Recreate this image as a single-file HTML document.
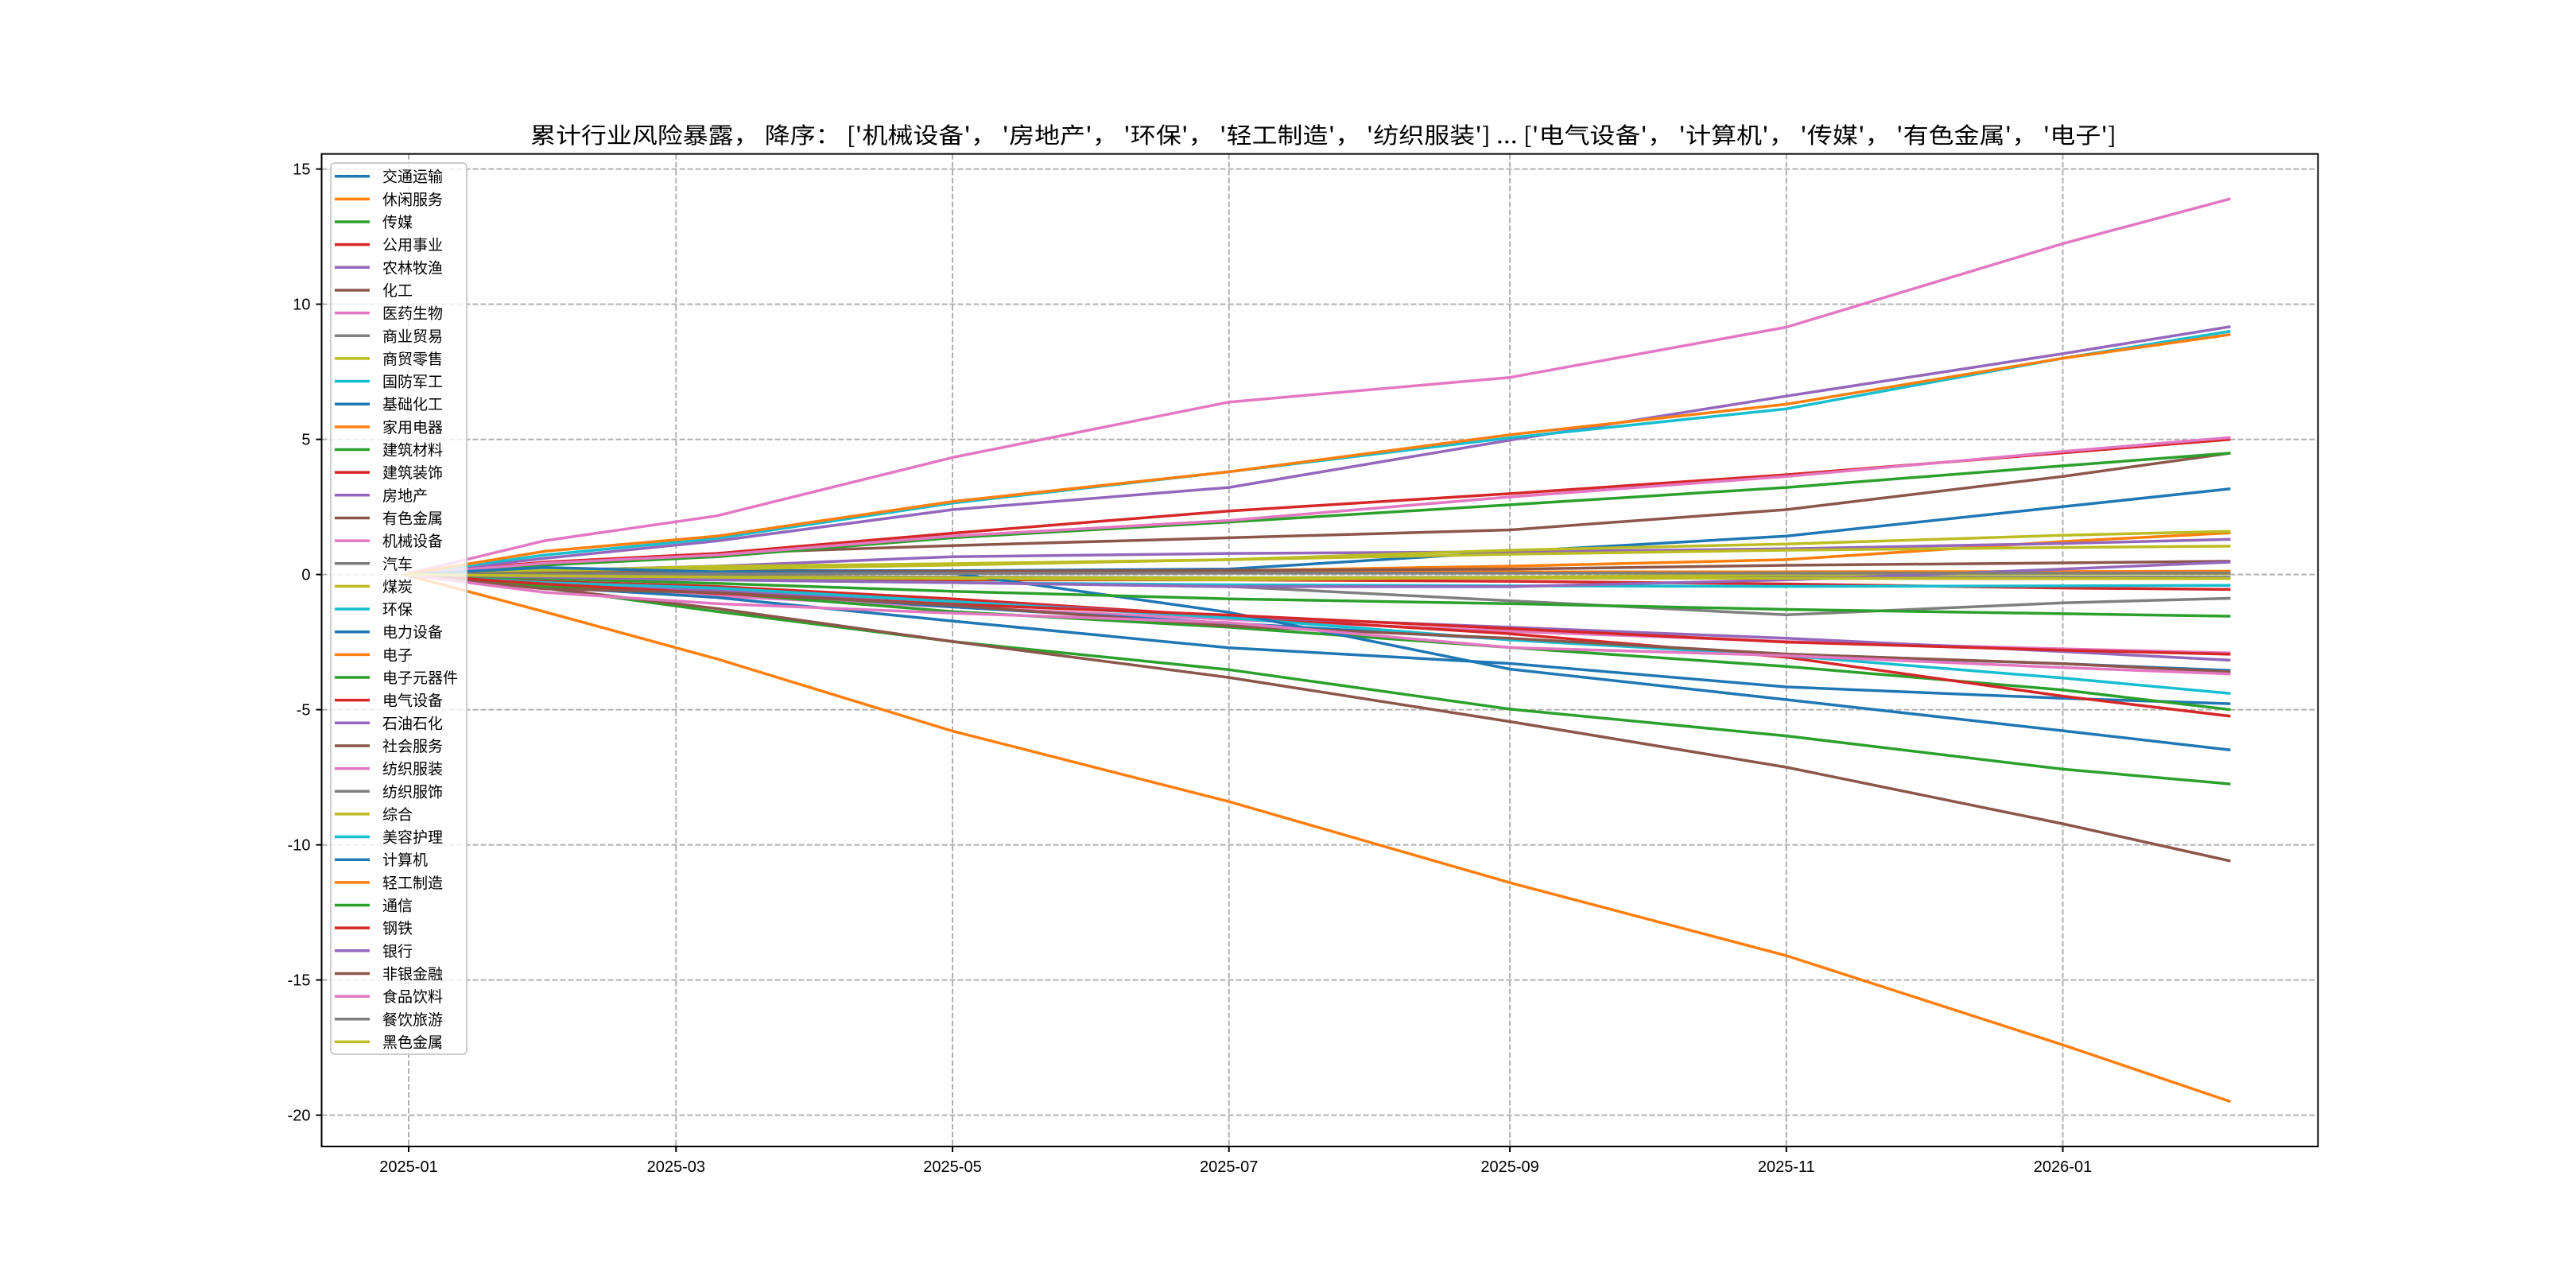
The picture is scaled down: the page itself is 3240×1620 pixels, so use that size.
<!DOCTYPE html>
<html><head><meta charset="utf-8">
<style>
html,body{margin:0;padding:0;background:#fff;}
svg{display:block;font-family:"Liberation Sans","Noto Sans CJK SC","WenQuanYi Zen Hei",sans-serif;}
</style></head>
<body>
<svg id="chart" width="3240" height="1620" viewBox="0 0 3240 1620" xmlns="http://www.w3.org/2000/svg">
<rect x="0" y="0" width="3240" height="1620" fill="#fff"/>
<text x="667" y="180" font-size="28" textLength="1995" lengthAdjust="spacingAndGlyphs" fill="#000" style="font-family:'Noto Sans CJK SC','WenQuanYi Zen Hei',sans-serif">累计行业风险暴露， 降序： ['机械设备'， '房地产'， '环保'， '轻工制造'， '纺织服装'] ... ['电气设备'， '计算机'， '传媒'， '有色金属'， '电子']</text>
<g id="grid"></g>
<g id="lines"></g>
<rect x="404.5" y="193.6" width="2511" height="1248.4" fill="none" stroke="#000" stroke-width="2"/>
<g id="ticks"></g>
<g id="legend"></g>
</svg>
<script>
const days = [-1, 30, 68, 120, 181, 243, 304, 365, 402];
const names = ["交通运输","休闲服务","传媒","公用事业","农林牧渔","化工","医药生物","商业贸易","商贸零售","国防军工","基础化工","家用电器","建筑材料","建筑装饰","房地产","有色金属","机械设备","汽车","煤炭","环保","电力设备","电子","电子元器件","电气设备","石油石化","社会服务","纺织服装","纺织服饰","综合","美容护理","计算机","轻工制造","通信","钢铁","银行","非银金融","食品饮料","餐饮旅游","黑色金属"];
const s0 = [0,0.1,0.14,0.14,0.2,0.84,1.42,2.51,3.17];
const s1 = [0,0.03,0.06,0.1,0.14,0.31,0.55,1.22,1.54];
const s2 = [0,-0.5,-1.37,-2.48,-3.52,-4.98,-5.97,-7.2,-7.75];
const s3 = [0,-0.1,-0.15,-0.2,-0.2,-0.25,-0.35,-0.5,-0.55];
const s4 = [0,0.15,0.31,0.66,0.78,0.84,0.95,1.15,1.3];
const s5 = [0,0.4,0.78,1.07,1.36,1.65,2.4,3.63,4.49];
const s6 = [0,-0.35,-0.8,-1.2,-1.66,-2.1,-2.48,-2.75,-2.9];
const s7 = [0,-0.08,-0.15,-0.3,-0.44,-0.97,-1.49,-1.05,-0.88];
const s8 = [0,0.1,0.2,0.35,0.55,0.9,1.13,1.45,1.6];
const s9 = [0,-0.1,-0.2,-0.3,-0.38,-0.42,-0.44,-0.42,-0.4];
const s10 = [0,-0.46,-0.85,-1.72,-2.71,-3.29,-4.16,-4.58,-4.78];
const s11 = [0,0,0.02,0.05,0.08,0.1,0.1,0.11,0.12];
const s12 = [0,0.35,0.66,1.36,1.94,2.58,3.22,4.02,4.49];
const s13 = [0,0.46,0.78,1.53,2.35,2.99,3.69,4.5,5.0];
const s14 = [0,0.6,1.24,2.4,3.22,4.97,6.6,8.17,9.17];
const s15 = [0,-0.5,-1.26,-2.48,-3.81,-5.44,-7.13,-9.22,-10.6];
const s16 = [0,1.25,2.17,4.33,6.38,7.29,9.15,12.24,13.9];
const s17 = [0,-0.05,-0.08,-0.1,-0.12,-0.1,-0.1,-0.1,-0.1];
const s18 = [0,0.15,0.3,0.4,0.55,0.75,0.9,1.0,1.05];
const s19 = [0,0.72,1.34,2.64,3.8,5.06,6.13,8.0,9.0];
const s20 = [0,-0.3,-0.6,-1.2,-1.8,-2.4,-2.95,-3.3,-3.55];
const s21 = [0,-1.38,-3.12,-5.79,-8.4,-11.4,-14.1,-17.4,-19.5];
const s22 = [0,-0.45,-0.67,-1.37,-1.95,-2.7,-3.4,-4.27,-5.0];
const s23 = [0,-0.25,-0.44,-0.9,-1.55,-2.19,-3.06,-4.5,-5.24];
const s24 = [0,-0.3,-0.6,-1.0,-1.55,-1.95,-2.36,-2.85,-3.17];
const s25 = [0,0.05,0.1,0.12,0.15,0.2,0.34,0.43,0.49];
const s26 = [0,0.42,0.72,1.42,2.0,2.87,3.63,4.55,5.07];
const s27 = [0,-0.04,-0.06,-0.1,-0.12,-0.13,-0.14,-0.15,-0.15];
const s28 = [0,-0.05,-0.1,-0.15,-0.2,-0.1,0.0,0.02,0.03];
const s29 = [0,-0.3,-0.5,-1.0,-1.6,-2.42,-3.0,-3.83,-4.4];
const s30 = [0,0.26,0.1,0.05,-1.4,-3.5,-4.63,-5.78,-6.49];
const s31 = [0,0.86,1.42,2.7,3.8,5.17,6.3,8.0,8.88];
const s32 = [0,-0.15,-0.33,-0.62,-0.9,-1.08,-1.29,-1.45,-1.54];
const s33 = [0,-0.35,-0.7,-1.1,-1.5,-2.0,-2.5,-2.8,-2.95];
const s34 = [0,-0.1,-0.2,-0.3,-0.45,-0.45,-0.2,0.2,0.46];
const s35 = [0,-0.53,-0.67,-1.14,-1.9,-2.36,-2.94,-3.3,-3.6];
const s36 = [0,-0.66,-1.08,-1.43,-1.78,-2.7,-3.0,-3.44,-3.68];
const s37 = [0,0.02,0.03,0.04,0.05,0.05,0.05,0.05,0.05];
const s38 = [0,-0.05,-0.1,-0.12,-0.12,-0.13,-0.14,-0.15,-0.15];
const series = [s0,s1,s2,s3,s4,s5,s6,s7,s8,s9,s10,s11,s12,s13,s14,s15,s16,s17,s18,s19,s20,s21,s22,s23,s24,s25,s26,s27,s28,s29,s30,s31,s32,s33,s34,s35,s36,s37,s38];
const yTicks = [-20,-15,-10,-5,0,5,10,15];
const xTickDays = [0,59,120,181,243,304,365];
const xTickLabels = ["2025-01","2025-03","2025-05","2025-07","2025-09","2025-11","2026-01"];

const palette = ["#1f77b4","#ff7f0e","#2ca02c","#d62728","#9467bd","#8c564b","#e377c2","#7f7f7f","#bcbd22","#17becf"];
const NS = "http://www.w3.org/2000/svg";
const L = 404.5, R = 2915.5, T = 193.6, B = 1442;
function xs(d){ return 514 + 5.70 * d; }
function ys(v){ return 722.6 - 34 * v; }
function mk(tag, attrs, parent){ const e = document.createElementNS(NS, tag); for (const k in attrs) e.setAttribute(k, attrs[k]); parent.appendChild(e); return e; }

const grid = document.getElementById('grid');
const ticks = document.getElementById('ticks');
yTicks.forEach(v => {
  const g = mk('line', {x1:L, x2:R, y1:ys(v), y2:ys(v), stroke:'#b0b0b0', 'stroke-width':2, 'stroke-dasharray':'7,3'}, grid);
  
  
  const t = mk('line', {x1:L-7, x2:L, y1:ys(v), y2:ys(v), stroke:'#000', 'stroke-width':2}, ticks);
  
  
  const lb = mk('text', {x:L-14, y:ys(v)+7, 'font-size':20, 'text-anchor':'end', fill:'#000'}, ticks);
  lb.textContent = v;
  
  
});
xTickDays.forEach((d, i) => {
  const g = mk('line', {x1:xs(d), x2:xs(d), y1:T, y2:B, stroke:'#b0b0b0', 'stroke-width':2, 'stroke-dasharray':'7,3'}, grid);
  
  
  const t = mk('line', {x1:xs(d), x2:xs(d), y1:B, y2:B+7, stroke:'#000', 'stroke-width':2}, ticks);
  
  
  const lb = mk('text', {x:xs(d), y:B+32, 'font-size':20, 'text-anchor':'middle', fill:'#000'}, ticks);
  lb.textContent = xTickLabels[i];
  
  
});

const lines = document.getElementById('lines');
series.forEach((s, i) => {
  const pts = s.map((v, j) => xs(days[j]).toFixed(1) + ',' + ys(v).toFixed(1)).join(' ');
  const p = mk('polyline', {points:pts, fill:'none', stroke:palette[i % 10], 'stroke-width':3.5, 'stroke-linejoin':'round'}, lines);
  
  
});

const leg = document.getElementById('legend');
const box = mk('rect', {x:416, y:205, width:171, height:1121, rx:5, fill:'#fff', 'fill-opacity':0.8, stroke:'#cccccc', 'stroke-width':2}, leg);


names.forEach((n, i) => {
  const y = 221.7 + 28.65 * i;
  const ln = mk('line', {x1:421, x2:465, y1:y, y2:y, stroke:palette[i % 10], 'stroke-width':3.5}, leg);
  
  
  const tx = mk('text', {x:481, y:y+7, 'font-size':19, fill:'#000'}, leg);
  tx.textContent = n;
  
  
});
</script>
</body></html>
